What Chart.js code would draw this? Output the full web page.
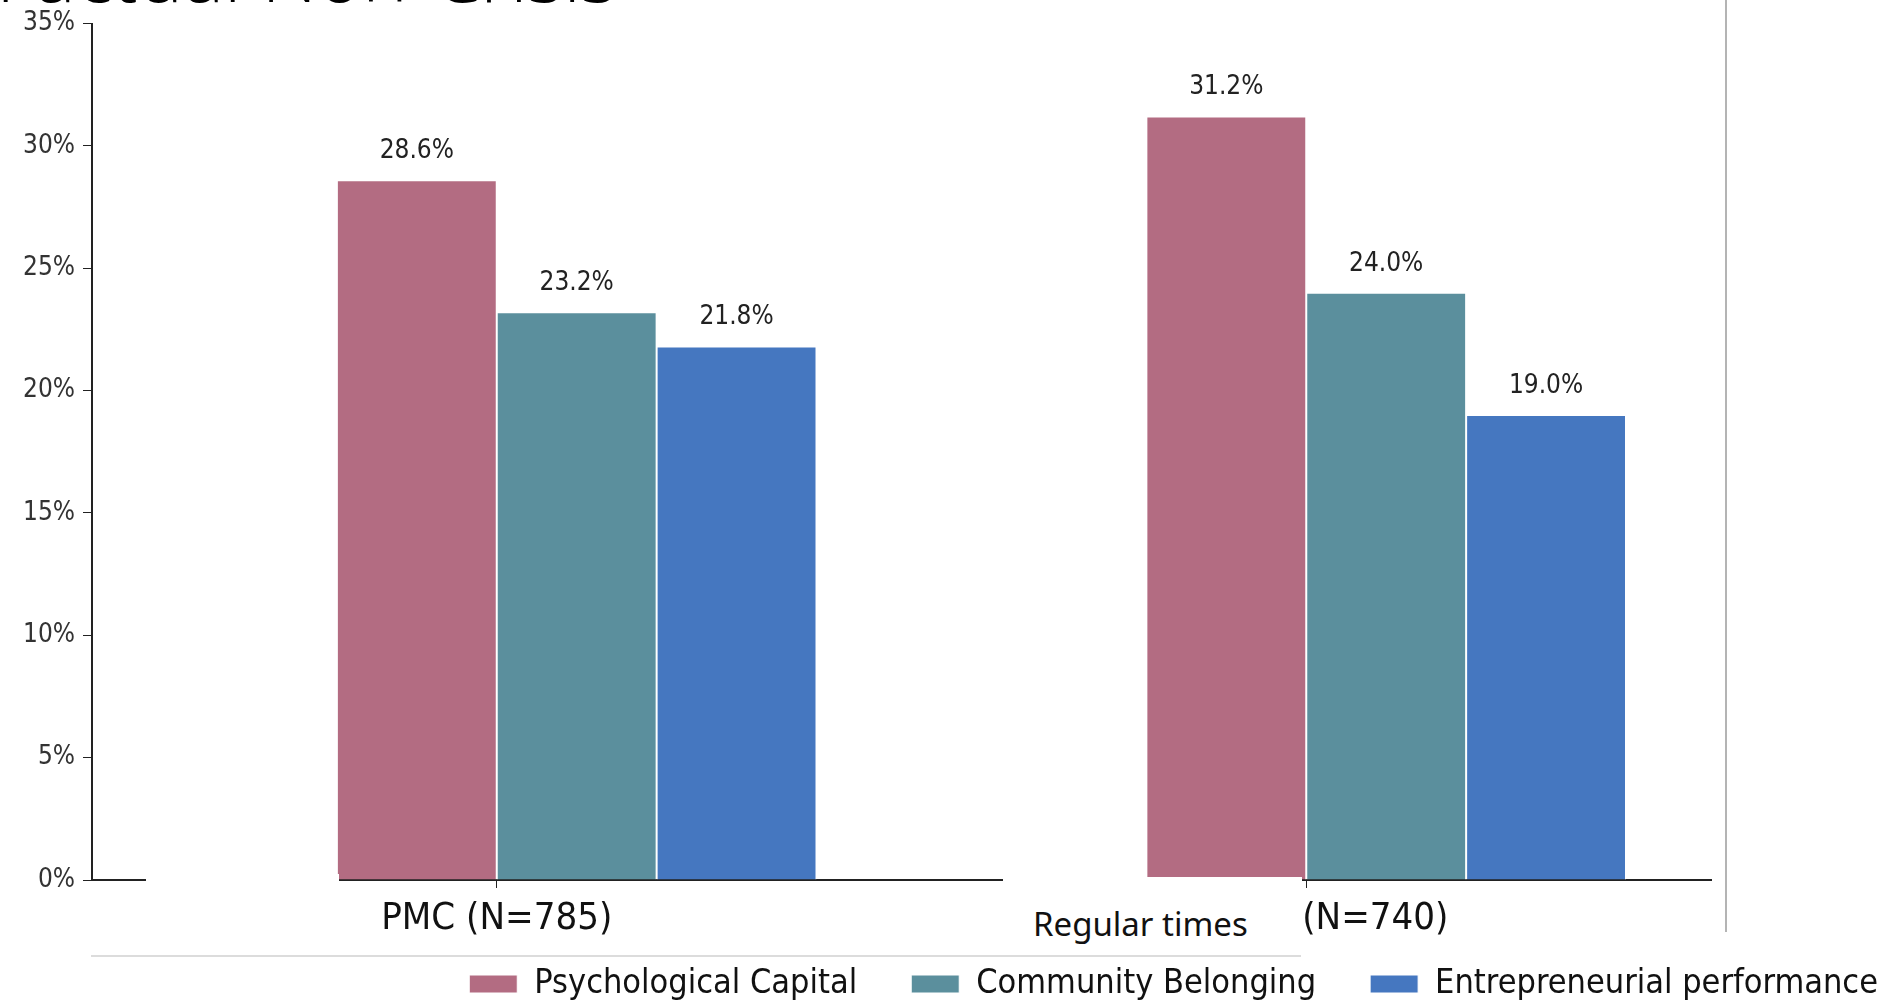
<!DOCTYPE html>
<html lang="en">
<head>
    <meta charset="UTF-8">
    <title>Factual Non-Crisis</title>
    <script src="https://cdn.jsdelivr.net/npm/chart.js@4.4.1/dist/chart.umd.min.js"></script>
    <style>
        body { margin: 0; background: #fff; overflow: hidden; }
        #wrap { position: relative; width: 1903px; height: 1005px; overflow: hidden; }
        #titulo { position: absolute; left: -4px; top: -66px; font: 300 77px "Open Sans", sans-serif; line-height: 1; color: #000; white-space: nowrap; }
        #regular { position: absolute; left: 1003px; top: 877px; width: 299px; height: 76px; background: #fff;
                   font: 33px "Noto Sans", sans-serif; color: #111; box-sizing: border-box; padding: 30px 0 0 30px; line-height: 1; }
        #hueco { position: absolute; left: 146px; top: 874px; width: 193px; height: 10px; background: #fff; }
        #lineaH { position: absolute; left: 91px; top: 955px; width: 1210px; height: 2px; background: #dcdcdc; }
        #lineaV { position: absolute; left: 1725px; top: 0; width: 2px; height: 932px; background: #b4b4b4; }
    </style>
</head>
<body>
<div id="wrap">
    <canvas id="myCanvas" width="1932" height="1005"></canvas>
    <div id="titulo">Factual Non-Crisis</div>
    <div id="hueco"></div>
    <div id="regular">Regular times</div>
    <div id="lineaH"></div>
    <div id="lineaV"></div>
</div>

<script>
// datos
const grupos = ['PMC (N=785)', '(N=740)'];
const series = ['Psychological Capital', 'Community Belonging', 'Entrepreneurial performance'];
const capitalPsico = [28.6, 31.2];
const pertenencia = [23.2, 24.0];
const desempeno = [21.8, 19.0];
const colores = ['rgb(179,108,130)', 'rgb(91,143,157)', 'rgb(69,119,192)'];

const fuente = '"DejaVu Sans Condensed", "DejaVu Sans", sans-serif';

// etiquetas con el valor encima de cada barra
const etiquetas = {
    id: 'etiquetas',
    afterDatasetsDraw(chart) {
        const ctx = chart.ctx;
        ctx.save();
        ctx.font = '26px ' + fuente;
        ctx.fillStyle = '#222';
        ctx.textAlign = 'center';
        ctx.textBaseline = 'middle';
        chart.data.datasets.forEach((ds, i) => {
            if (!ds.label) return;
            chart.getDatasetMeta(i).data.forEach((bar, j) => {
                const v = ds.data[j];
                if (v == null) return;
                ctx.fillText(v.toFixed(1) + '%', bar.x, bar.y - 29);
            });
        });
        ctx.restore();
    }
};

// nombres de los grupos bajo el eje x
const nombresX = {
    id: 'nombresX',
    afterDraw(chart) {
        const ctx = chart.ctx;
        const x = chart.scales.x;
        ctx.save();
        ctx.font = '38px ' + fuente;
        ctx.fillStyle = '#111';
        ctx.textBaseline = 'middle';
        grupos.forEach((g, i) => {
            const px = x.getPixelForTick(i);
            if (i === 0) {
                ctx.textAlign = 'center';
                ctx.fillText(g, px, 919);
            } else {
                ctx.textAlign = 'left';
                ctx.fillText(g, px - 4, 919);
            }
        });
        ctx.restore();
    }
};

const datos = {
    labels: grupos,
    datasets: [
        { label: '', data: [null, null], backgroundColor: 'rgba(0,0,0,0)' },
        { label: series[0], data: capitalPsico, backgroundColor: colores[0] },
        { label: series[1], data: pertenencia, backgroundColor: colores[1] },
        { label: series[2], data: desempeno, backgroundColor: colores[2] }
    ]
};
datos.datasets.forEach(ds => {
    ds.borderColor = '#fff';
    ds.borderWidth = 1;
    ds.categoryPercentage = 0.79;
    ds.barPercentage = 1;
});

new Chart(document.getElementById('myCanvas'), {
    type: 'bar',
    data: datos,
    options: {
        responsive: false,
        animation: false,
        layout: { padding: { top: 10, right: 0, bottom: -6, left: 0 } },
        plugins: {
            tooltip: { enabled: false },
            legend: {
                position: 'bottom',
                align: 'end',
                labels: {
                    filter: item => item.text !== '',
                    boxWidth: 48,
                    boxHeight: 18,
                    padding: 54,
                    color: '#111',
                    font: { family: fuente, size: 34, lineHeight: 0.9 }
                }
            }
        },
        scales: {
            x: {
                grid: { display: true, drawOnChartArea: false, offset: false, drawTicks: true, tickLength: 8, color: '#222' },
                border: { display: true, color: '#222', width: 2 },
                ticks: { display: false },
                afterFit: s => { s.height = 33; }
            },
            y: {
                min: 0,
                max: 35,
                grid: { drawOnChartArea: false, drawTicks: true, tickLength: 9, color: '#222' },
                border: { display: true, color: '#222', width: 2 },
                ticks: {
                    stepSize: 5,
                    padding: 8,
                    color: '#333',
                    font: { family: fuente, size: 26 },
                    callback: v => v + '%'
                },
                afterFit: s => { s.width = 92; }
            },
            margen: {
                type: 'linear',
                position: 'right',
                grid: { display: false },
                border: { display: false },
                ticks: { display: false },
                afterFit: s => { s.width = 221; }
            }
        }
    },
    plugins: [etiquetas, nombresX]
});
</script>
</body>
</html>
